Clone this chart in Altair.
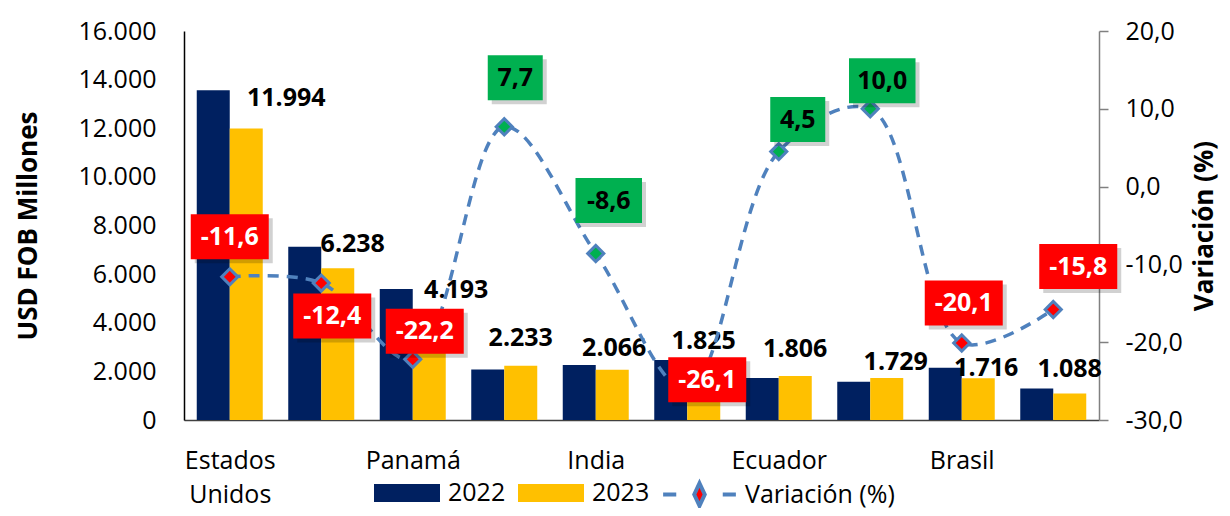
import altair as alt
import pandas as pd

# ---------------- data ----------------
paises = ["Estados Unidos", "China", "Panamá", "Países Bajos", "India",
          "México", "Ecuador", "Chile", "Brasil", "Perú"]
v2022 = [13568, 7121, 5389, 2073, 2260, 2470, 1728, 1572, 2148, 1292]
v2023 = [11994, 6238, 4193, 2233, 2066, 1825, 1806, 1729, 1716, 1088]
variacion = [-11.6, -12.4, -22.2, 7.7, -8.6, -26.1, 4.5, 10.0, -20.1, -15.8]
tono = ["neg", "neg", "neg", "pos", "pos", "neg", "pos", "pos", "neg", "neg"]

# label placement offsets (px), as manually placed in the original
bar_lab_dx = [40, 15, 27, 0, 2, 0, 0, 9, 8, 0]
bar_lab_dy = [-30, -24, -28, -28, -22, -35, -27, -16, -10, -25]
var_lab_dx = [0, 11, 12, 11, 13, 20, 19, 12, 2, 25]
var_lab_dy = [-40, 33, -28, -49, -53, -10, -32, -28, -40, -43]

# ---------------- layout ----------------
W, H = 915, 389
PX_X = W / 10.0
PX_USD = H / 16000.0
PX_VAR = H / 50.0
BAR_W = 33 / PX_X
FONT = "Open Sans"
NAVY, YELLOW, LBLUE = "#002060", "#FFC000", "#4F81BD"
RED, GREEN = "#FF0000", "#00B050"

df = pd.DataFrame({
    "idx": list(range(len(paises))),
    "pais": paises,
    "v2022": v2022,
    "v2023": v2023,
    "variacion": variacion,
    "tono": tono,
    "bdx": bar_lab_dx,
    "bdy": bar_lab_dy,
    "vdx": var_lab_dx,
    "vdy": var_lab_dy,
})

xscale = alt.Scale(domain=[-0.5, len(paises) - 0.5], nice=False, zero=False)
usd_scale = alt.Scale(domain=[0, 16000], nice=False)
var_scale = alt.Scale(domain=[-30, 20], nice=False, zero=False)
fill_scale = alt.Scale(domain=["pos", "neg"], range=[GREEN, RED])

# x labels: every other category, multi-word names wrapped on two lines
shown = [0, 2, 4, 6, 8]
expr = "''"
for i in reversed(shown):
    parts = paises[i].split(" ")
    if len(parts) > 1:
        lab = "[" + ",".join("'" + p + "'" for p in parts) + "]"
    else:
        lab = "'" + paises[i] + "'"
    expr = f"datum.value == {i} ? {lab} : ({expr})"

x_axis = alt.Axis(
    values=shown, labelExpr=expr,
    ticks=False, grid=False, domainColor="#404040", domainWidth=1.5,
    labelFont=FONT, labelFontSize=25, labelColor="black", labelPadding=28,
    labelLineHeight=34, labelFlush=False, labelOverlap=False, title=None,
)
y_left_axis = alt.Axis(
    values=list(range(0, 16001, 2000)),
    labelExpr="replace(format(datum.value, ','), ',', '.')",
    ticks=False, grid=False, domainColor="black", domainWidth=1.5,
    labelFont=FONT, labelFontSize=25, labelColor="black", labelPadding=28,
    title="USD FOB Millones", titleFont=FONT, titleFontSize=26,
    titleFontWeight="bold", titleColor="black", titlePadding=36,
)
y_right_axis = alt.Axis(
    orient="right",
    values=[-30, -20, -10, 0, 10, 20],
    labelExpr="(datum.value < 0 ? '-' : '') + replace(format(abs(datum.value), '.1f'), '.', ',')",
    ticks=True, tickSize=9, tickColor="#808080", tickWidth=1.5, grid=False,
    domainColor="#808080", domainWidth=1.5,
    labelFont=FONT, labelFontSize=25, labelColor="black", labelPadding=17,
    title="Variación (%)", titleFont=FONT, titleFontSize=26, titleAngle=270,
    titleFontWeight="bold", titleColor="black", titlePadding=35,
)

RECT_PATH = "M-1,-0.27H1V0.27H-1Z"
LINE_PATH = ("M-0.97,0H-0.62M0.62,0H0.97"
             "M0,-0.3L0.14,0L0,0.3L-0.14,0Z")


def X(field):
    return alt.X(field, scale=xscale, axis=x_axis)


# ---------------- bars ----------------
bars = alt.Chart(df).transform_fold(
    ["v2022", "v2023"], as_=["k", "valor"]
).transform_calculate(
    serie="datum.k == 'v2022' ? '2022' : '2023'",
    x0=f"datum.idx + (datum.k == 'v2022' ? {-BAR_W} : 0)",
    x1=f"datum.idx + (datum.k == 'v2022' ? 0 : {BAR_W})",
).mark_bar().encode(
    x=X("x0:Q"),
    x2="x1:Q",
    y=alt.Y("valor:Q", scale=usd_scale, axis=y_left_axis),
    y2=alt.Y2(datum=0),
    color=alt.Color(
        "serie:N",
        scale=alt.Scale(domain=["2022", "2023"], range=[NAVY, YELLOW]),
        legend=alt.Legend(
            orient="none", legendX=190, legendY=429, direction="horizontal",
            title=None, symbolType=RECT_PATH, symbolSize=4356,
            symbolStrokeWidth=0, labelFont=FONT, labelFontSize=25,
            labelColor="black", labelOffset=8, columnPadding=12, padding=0,
        ),
    ),
)

bar_labels = alt.Chart(df).transform_calculate(
    txt="replace(format(datum.v2023, ','), ',', '.')",
    lx=f"datum.idx + {BAR_W / 2} + datum.bdx / {PX_X}",
    ly=f"datum.v2023 - datum.bdy / {PX_USD}",
).mark_text(
    font=FONT, fontSize=25, fontWeight="bold", color="black",
    align="center", baseline="middle",
).encode(
    x=X("lx:Q"),
    y=alt.Y("ly:Q", scale=usd_scale, axis=None),
    text="txt:N",
)

# ---------------- variation line ----------------
vbase = alt.Chart(df).transform_calculate(
    lserie="'Variación (%)'",
    vtxt="(datum.variacion < 0 ? '-' : '') + replace(format(abs(datum.variacion), '.1f'), '.', ',')",
    xc=f"datum.idx + datum.vdx / {PX_X}",
    yc=f"datum.variacion - datum.vdy / {PX_VAR}",
    hw=f"(20.5 + 11.5 * length(datum.vtxt)) / 2 / {PX_X}",
    hh=f"22.5 / {PX_VAR}",
    bx0="datum.xc - datum.hw",
    bx1="datum.xc + datum.hw",
    by0="datum.yc - datum.hh",
    by1="datum.yc + datum.hh",
    sx0=f"datum.bx0 + 4 / {PX_X}",
    sx1=f"datum.bx1 + 4 / {PX_X}",
    sy0=f"datum.by0 - 4 / {PX_VAR}",
    sy1=f"datum.by1 - 4 / {PX_VAR}",
)

line = vbase.mark_line(
    interpolate="catmull-rom", strokeDash=[11, 8], strokeWidth=3.5,
).encode(
    x=X("idx:Q"),
    y=alt.Y("variacion:Q", scale=var_scale, axis=y_right_axis),
    stroke=alt.Stroke(
        "lserie:N",
        scale=alt.Scale(domain=["Variación (%)"], range=[LBLUE]),
        legend=alt.Legend(
            orient="none", legendX=476, legendY=424, direction="horizontal",
            title=None, symbolType=LINE_PATH, symbolSize=5625,
            symbolStrokeWidth=4, symbolFillColor=RED,
            labelFont=FONT, labelFontSize=25, labelColor="black",
            labelOffset=6, padding=0,
        ),
    ),
)

points = vbase.mark_point(
    shape="diamond", filled=True, size=260, stroke=LBLUE, strokeWidth=3,
    opacity=1,
).encode(
    x=X("idx:Q"),
    y=alt.Y("variacion:Q", scale=var_scale, axis=None),
    fill=alt.Fill("tono:N", scale=fill_scale, legend=None),
)

box_shadow = vbase.mark_rect(color="black", opacity=0.18).encode(
    x=X("sx0:Q"),
    x2="sx1:Q",
    y=alt.Y("sy0:Q", scale=var_scale, axis=None),
    y2="sy1:Q",
)

boxes = vbase.mark_rect().encode(
    x=X("bx0:Q"),
    x2="bx1:Q",
    y=alt.Y("by0:Q", scale=var_scale, axis=None),
    y2="by1:Q",
    fill=alt.Fill("tono:N", scale=fill_scale, legend=None),
)

box_text = vbase.mark_text(
    font=FONT, fontSize=25, fontWeight="bold", align="center", baseline="middle",
).encode(
    x=X("xc:Q"),
    y=alt.Y("yc:Q", scale=var_scale, axis=None),
    text="vtxt:N",
    color=alt.condition("datum.tono == 'pos'", alt.value("black"), alt.value("white")),
)

chart = alt.layer(
    bars, bar_labels, line, points, box_shadow, boxes, box_text
).resolve_scale(
    y="independent"
).properties(
    width=W, height=H,
    background="white",
    title=alt.TitleParams(
        "(USD FOB Millones)", font=FONT, fontSize=26, fontWeight="bold",
        color="black", anchor="middle", offset=22,
    ),
    autosize=alt.AutoSizeParams(type="none"),
    padding={"left": 176, "top": 23, "right": 123, "bottom": 88},
).configure_view(stroke=None)

chart.save("out.html", embed_options={"renderer": "svg", "actions": False})
